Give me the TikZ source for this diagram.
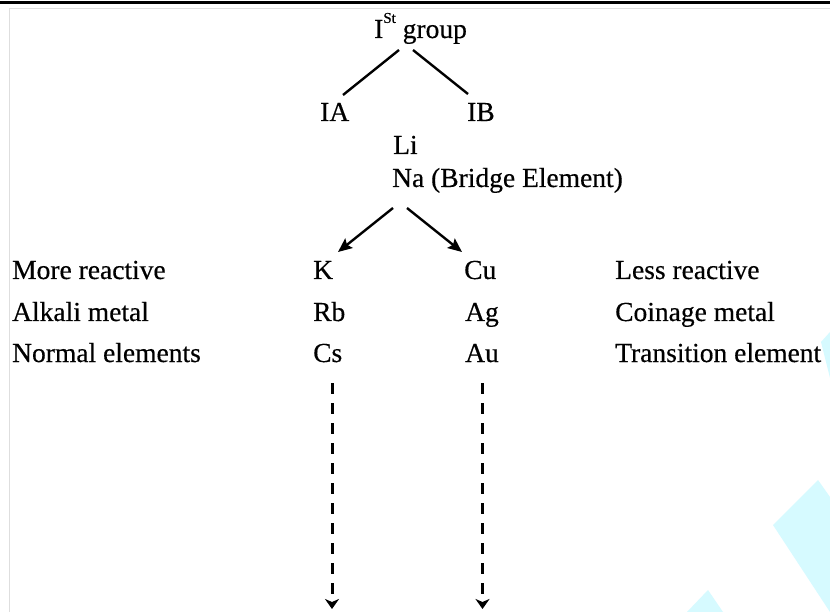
\documentclass[tikz,border=0pt]{standalone}
\usepackage{fontspec}
\setmainfont{Liberation Serif}[FakeBold=0.4]
\usetikzlibrary{arrows.meta}
\definecolor{wm}{RGB}{214,250,255}
\definecolor{framegray}{RGB}{222,222,222}
\begin{document}
\begin{tikzpicture}[x=1pt,y=-1pt,
  txt/.style={inner sep=0pt,anchor=base west,font=\fontsize{27.5}{33}\selectfont},
  link/.style={line width=2.4pt},
  arr/.style={line width=2.4pt,-{Stealth[length=14pt,width=12pt,inset=2.5pt]}},
  darr/.style={line width=3pt,dash pattern=on 11pt off 9pt,-{Stealth[length=10pt,width=14pt,inset=3pt]}}]
\useasboundingbox (0,0) rectangle (830,612);
\fill[white] (0,0) rectangle (830,612);
% watermark shapes
\fill[wm] (773,525) -- (818,480) -- (830,497) -- (830,612) -- cycle;
\fill[wm] (687,612) -- (708,590) -- (723,612) -- cycle;
\fill[wm] (821,342) -- (830,332) -- (830,378) -- cycle;
% frame
\fill[black] (0,1) rectangle (830,4.5);
\draw[framegray,line width=1pt] (830,9) -- (9,9) -- (9,612);
% texts
\node[txt] (grp) at (374,38) {I\raisebox{0.55em}{\fontsize{15}{18}\selectfont St} group};
\node[txt] (IA) at (320,121) {IA};
\node[txt] (IB) at (467,121) {IB};
\node[txt] (Li) at (393,154) {Li};
\node[txt] (Na) at (392,187) {Na (Bridge Element)};
\node[txt] (more) at (12,279) {More reactive};
\node[txt] (K) at (313,279) {K};
\node[txt] (Cu) at (464,279) {Cu};
\node[txt] (less) at (615,279) {Less reactive};
\node[txt] (alk) at (12,321) {Alkali metal};
\node[txt] (Rb) at (313,321) {Rb};
\node[txt] (Ag) at (465,321) {Ag};
\node[txt] (coin) at (615,321) {Coinage metal};
\node[txt] (norm) at (12,362) {Normal elements};
\node[txt] (Cs) at (313,362) {Cs};
\node[txt] (Au) at (465,362) {Au};
\node[txt] (trans) at (615,362) {Transition element};
% connectors
\draw[link] ([shift={(25,12)}]grp.base west) -- ([shift={(23,-26)}]IA.base west);
\draw[link] ([shift={(39,12)}]grp.base west) -- ([shift={(1,-27)}]IB.base west);
\draw[arr] ([shift={(1,21)}]Na.base west) -- ([shift={(25,-27)}]K.base west);
\draw[arr] ([shift={(15,21)}]Na.base west) -- ([shift={(-2,-27)}]Cu.base west);
\coordinate (endL) at (332,609);
\coordinate (endR) at (482.5,609);
\draw[darr] ([shift={(19,21)}]Cs.base west) -- (endL);
\draw[darr] ([shift={(17.5,21)}]Au.base west) -- (endR);
\end{tikzpicture}
\end{document}
